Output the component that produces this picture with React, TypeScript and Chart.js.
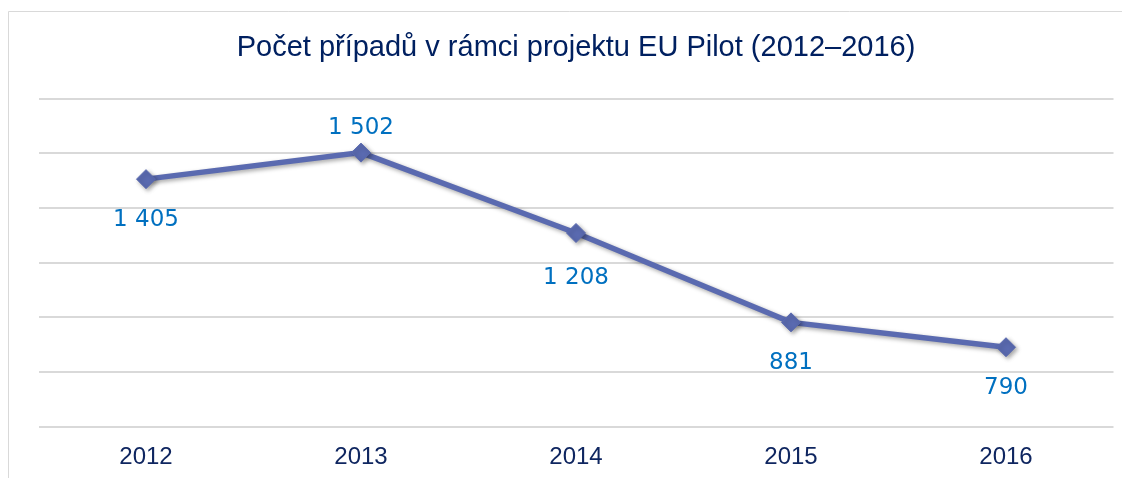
import React, { useEffect, useRef } from "react";
import { Chart, registerables } from "chart.js";

Chart.register(...registerables);

const categories = ["2012", "2013", "2014", "2015", "2016"];
const cases = [1405, 1502, 1208, 881, 790];
const labelSides = ["below", "above", "below", "below", "below"];
const yMin = 500;
const yMax = 1700;
const yStep = 200;
const titleText = "Počet případů v rámci projektu EU Pilot (2012–2016)";

const fmt = (v: number) => String(v).replace(/\B(?=(\d{3})+(?!\d))/g, " ");

const frame = {
  id: "frame",
  beforeDraw(chart: any) {
    const { ctx, width, height } = chart;
    ctx.save();
    ctx.fillStyle = "#ffffff";
    ctx.fillRect(0, 0, width, height);
    ctx.strokeStyle = "#d9d9d9";
    ctx.lineWidth = 1;
    ctx.beginPath();
    ctx.moveTo(0.5, height);
    ctx.lineTo(0.5, 3.5);
    ctx.lineTo(width, 3.5);
    ctx.stroke();
    ctx.restore();
  },
};

const shadow = {
  id: "shadow",
  beforeDatasetDraw(chart: any) {
    const ctx = chart.ctx;
    ctx.save();
    ctx.shadowColor = "rgba(0,0,0,0.35)";
    ctx.shadowBlur = 4;
    ctx.shadowOffsetX = 2;
    ctx.shadowOffsetY = 2;
  },
  afterDatasetDraw(chart: any) {
    chart.ctx.restore();
  },
};

const valueLabels = {
  id: "valueLabels",
  afterDatasetsDraw(chart: any, _args: any, opts: any) {
    const ctx = chart.ctx;
    const meta = chart.getDatasetMeta(0);
    const extra = (opts && opts.extra) || {};
    ctx.save();
    ctx.font = '23px "DejaVu Sans", Verdana, sans-serif';
    ctx.fillStyle = "#0070C0";
    ctx.textAlign = "center";
    ctx.textBaseline = "middle";
    meta.data.forEach((pt: any, i: number) => {
      const off = labelSides[i] === "above" ? -25 : 40.5 + (extra[i] || 0);
      ctx.fillText(fmt(cases[i]), pt.x, pt.y + off);
    });
    ctx.restore();
  },
};

export default function App() {
  const ref = useRef<HTMLCanvasElement>(null);
  useEffect(() => {
    if (!ref.current) return;
    const chart = new Chart(ref.current, {
      type: "line",
      data: {
        labels: categories,
        datasets: [
          {
            data: cases,
            borderColor: "#5A6AB0",
            backgroundColor: "#5A6AB0",
            borderWidth: 5.5,
            pointStyle: "rectRot",
            pointRadius: 9.5,
            pointBorderWidth: 1,
            pointBackgroundColor: "#5A6AB0",
            pointBorderColor: "#5A6AB0",
            tension: 0,
          },
        ],
      },
      options: {
        animation: false,
        responsive: false,
        maintainAspectRatio: false,
        layout: { padding: { left: 30.5, right: 16.5, top: 0, bottom: 0 } },
        plugins: {
          legend: { display: false },
          tooltip: { enabled: false },
          valueLabels: { extra: { 2: 4.5 } },
          title: {
            display: true,
            text: titleText,
            color: "#002060",
            font: { family: '"Liberation Sans", Arial, sans-serif', size: 29, weight: "normal" },
            padding: { top: 22.5, bottom: 33.2 },
          },
        } as any,
        scales: {
          x: {
            offset: true,
            grid: { display: false, drawTicks: false },
            border: { display: false },
            ticks: {
              color: "#0F2660",
              padding: 16.5,
              font: { family: '"Liberation Sans", Arial, sans-serif', size: 24 },
            },
            afterFit(scale: any) {
              scale.height = 51.5;
            },
          },
          y: {
            min: yMin,
            max: yMax,
            ticks: { display: false, stepSize: yStep },
            grid: { color: "#d9d9d9", lineWidth: 2, drawTicks: false },
            border: { display: false },
          },
        },
      },
      plugins: [frame, shadow, valueLabels],
    });
    return () => chart.destroy();
  }, []);
  return (
    <div style={{ width: 1122, height: 470 }}>
      <canvas ref={ref} width={1122} height={470} style={{ display: "block" }} />
    </div>
  );
}
